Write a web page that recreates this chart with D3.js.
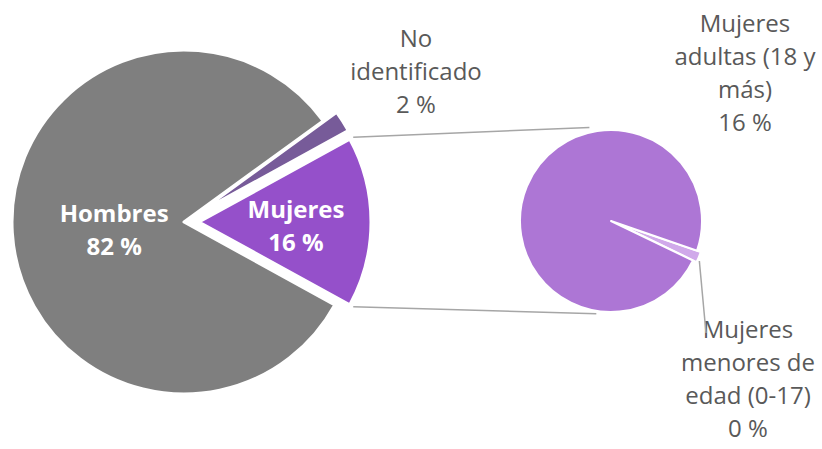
<!DOCTYPE html>
<html>
<head>
<meta charset="utf-8">
<script src="https://cdn.jsdelivr.net/npm/d3@7"></script>
<style>
  body { margin: 0; background: #ffffff; }
  svg text { font-family: "Open Sans", "DejaVu Sans", sans-serif; }
</style>
</head>
<body>
<svg id="chart" width="822" height="449"></svg>
<script>
// Main pie: share of victims by sex (%)
const mainCategories = ["Hombres", "No identificado", "Mujeres"];
const mainValues = [82, 2, 16];
const mainLabelLines = [["Hombres"], ["No", "identificado"], ["Mujeres"]];
const mainColors = ["#7f7f7f", "#775b99", "#9550ca"];

// Secondary pie: breakdown of "Mujeres" by age (% of total)
const subCategories = ["Mujeres menores de edad (0-17)", "Mujeres adultas (18 y más)"];
const subValues = [0.3, 15.7];
const subLabelLines = [["Mujeres", "menores de", "edad (0-17)"], ["Mujeres", "adultas (18 y", "más)"]];
const subColors = ["#d0a9ea", "#ad76d5"];

const W = 822, H = 449;
const svg = d3.select("#chart");
const fmtPct = v => d3.format(".0f")(v) + " %";
const deg = Math.PI / 180;

// ---------- main pie ----------
const mainCenter = [184, 222];
const R = 172;
const total = d3.sum(mainValues);
const mujeresIdx = mainCategories.indexOf("Mujeres");
// Rotate so the "Mujeres" slice is centred on the right (facing the secondary pie)
const mainStart = Math.PI / 2 + (mainValues[mujeresIdx] / total) * Math.PI;

const mainPie = d3.pie().sort(null).value(d => d)
  .startAngle(mainStart).endAngle(mainStart + 2 * Math.PI);
const mainArcs = mainPie(mainValues);
const arcMain = d3.arc().innerRadius(0).outerRadius(R);
const explode = [0, 16, 15];

function offsetOf(a, dist) {
  const mid = (a.startAngle + a.endAngle) / 2;
  return d3.pointRadial(mid, dist);
}

const gMain = svg.append("g").attr("transform", `translate(${mainCenter[0]},${mainCenter[1]})`);
gMain.selectAll("path.slice")
  .data(mainArcs)
  .join("path")
  .attr("class", "slice")
  .attr("d", arcMain)
  .attr("fill", (d, i) => mainColors[i])
  .attr("stroke", "#ffffff")
  .attr("stroke-width", 3)
  .attr("stroke-linejoin", "round")
  .attr("transform", (d, i) => {
    const [ox, oy] = offsetOf(d, explode[i]);
    return `translate(${ox},${oy})`;
  });

// ---------- secondary pie ----------
const subCenter = [611, 221];
const r2 = 91;
const subPie = d3.pie().sort(null).value(d => d)
  .startAngle(109 * deg).endAngle(109 * deg + 2 * Math.PI);
const subArcs = subPie(subValues);
const arcSub = d3.arc().innerRadius(0).outerRadius(r2);
const subExplode = [4, 0];

const gSub = svg.append("g").attr("transform", `translate(${subCenter[0]},${subCenter[1]})`);
gSub.selectAll("path.slice")
  .data(subArcs)
  .join("path")
  .attr("class", "slice")
  .attr("d", arcSub)
  .attr("fill", (d, i) => subColors[i])
  .attr("stroke", "#ffffff")
  .attr("stroke-width", 2)
  .attr("stroke-linejoin", "round")
  .attr("transform", (d, i) => {
    const [ox, oy] = offsetOf(d, subExplode[i]);
    return `translate(${ox},${oy})`;
  });

// ---------- connector lines between the pies ----------
const mA = mainArcs[mujeresIdx];
const [mox, moy] = offsetOf(mA, explode[mujeresIdx]);
const cornerTop = d3.pointRadial(mA.startAngle, R + 4);
const cornerBot = d3.pointRadial(mA.endAngle, R + 4);
const subTop = d3.pointRadial(-13 * deg, r2 + 5);
const subBot = d3.pointRadial(189 * deg, r2 + 3);
const connectors = [
  [[mainCenter[0] + mox + cornerTop[0], mainCenter[1] + moy + cornerTop[1]], [subCenter[0] + subTop[0], subCenter[1] + subTop[1]]],
  [[mainCenter[0] + mox + cornerBot[0], mainCenter[1] + moy + cornerBot[1]], [subCenter[0] + subBot[0], subCenter[1] + subBot[1]]]
];
svg.selectAll("line.connector")
  .data(connectors)
  .join("line")
  .attr("class", "connector")
  .attr("x1", d => d[0][0]).attr("y1", d => d[0][1])
  .attr("x2", d => d[1][0]).attr("y2", d => d[1][1])
  .attr("stroke", "#a6a6a6")
  .attr("stroke-width", 1.5);

// ---------- labels ----------
const lineH = 33;
function drawLabel(lines, x, yFirst, color, weight, size) {
  const t = svg.append("text")
    .attr("x", x).attr("y", yFirst)
    .attr("text-anchor", "middle")
    .attr("fill", color)
    .attr("font-weight", weight)
    .attr("font-size", size);
  lines.forEach((ln, k) => {
    t.append("tspan").attr("x", x).attr("dy", k === 0 ? 0 : lineH).text(ln);
  });
}

// Inside labels, placed along each slice's bisector
const insideRadius = [70, 0, 97];
[0, mujeresIdx].forEach(i => {
  const a = mainArcs[i];
  const [px, py] = d3.pointRadial((a.startAngle + a.endAngle) / 2, insideRadius[i]);
  const [ox, oy] = offsetOf(a, explode[i]);
  const x = mainCenter[0] + ox + px;
  const y = mainCenter[1] + oy + py;
  drawLabel([...mainLabelLines[i], fmtPct(mainValues[i])], x, y - 4, "#ffffff", 700, 24);
});

// "No identificado" label above the pie
drawLabel([...mainLabelLines[1], fmtPct(mainValues[1])], 416, 47, "#595959", 400, 24);

// Secondary pie labels
drawLabel([...subLabelLines[1], fmtPct(subValues[1])], 745, 32, "#595959", 400, 24);
drawLabel([...subLabelLines[0], fmtPct(subValues[0])], 748, 338, "#595959", 400, 24);

// Leader line for the small slice
const sA = subArcs[0];
const leadStart = d3.pointRadial((sA.startAngle + sA.endAngle) / 2 + 2 * deg, r2 + 6);
svg.append("line")
  .attr("x1", subCenter[0] + leadStart[0]).attr("y1", subCenter[1] + leadStart[1])
  .attr("x2", 706).attr("y2", 333)
  .attr("stroke", "#a6a6a6")
  .attr("stroke-width", 1.5);
</script>
</body>
</html>
